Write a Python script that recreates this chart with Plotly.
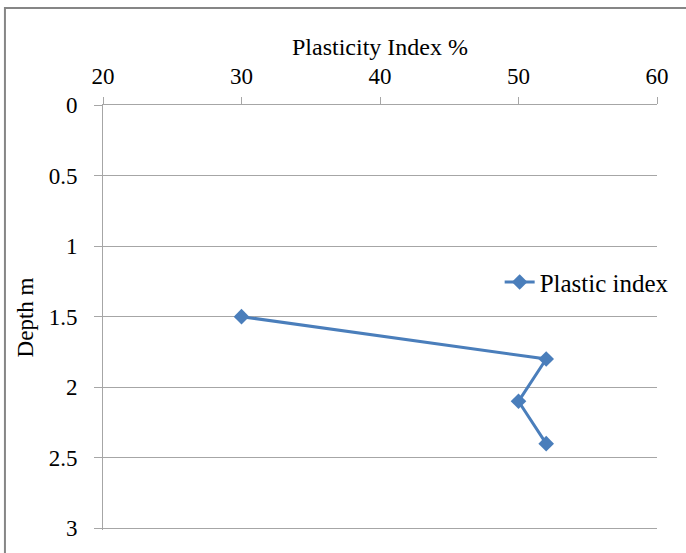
import plotly.graph_objects as go

# Plasticity index profile against depth
plasticity_index = [30, 52, 50, 52]
depth_m = [1.5, 1.8, 2.1, 2.4]

x_ticks = [20, 30, 40, 50, 60]
y_ticks = [0, 0.5, 1, 1.5, 2, 2.5, 3]
y_tick_text = ["0", "0.5", "1", "1.5", "2", "2.5", "3"]

line_color = "#4A7EBB"
axis_color = "#A6A6A6"
font_family = "Liberation Serif"

fig = go.Figure()
fig.add_trace(go.Scatter(
    x=plasticity_index,
    y=depth_m,
    mode="lines+markers",
    name="Plastic index",
    line=dict(color=line_color, width=3),
    marker=dict(symbol="diamond", size=12, color=line_color),
))

fig.update_layout(
    width=686,
    height=553,
    margin=dict(l=103, r=28, t=105, b=19),
    paper_bgcolor="white",
    plot_bgcolor="white",
    font=dict(family=font_family, size=23, color="black"),
    showlegend=True,
    legend=dict(
        x=0.716, y=0.583, xanchor="left", yanchor="middle",
        bgcolor="rgba(0,0,0,0)",
        font=dict(size=25, family=font_family),
        itemwidth=30,
    ),
    xaxis=dict(
        side="top",
        range=[20, 60],
        tickvals=x_ticks,
        showgrid=False,
        zeroline=False,
        showline=True,
        linecolor=axis_color,
        linewidth=1,
        ticks="outside",
        ticklen=7,
        tickcolor=axis_color,
        tickfont=dict(size=23, family=font_family),
        ticklabelstandoff=4,
        title=dict(text="Plasticity Index %", font=dict(size=24, family=font_family), standoff=1),
    ),
    yaxis=dict(
        range=[3.012, 0],
        tickvals=y_ticks,
        ticktext=y_tick_text,
        showgrid=True,
        gridcolor=axis_color,
        gridwidth=1,
        zeroline=False,
        showline=True,
        linecolor=axis_color,
        linewidth=1,
        ticks="outside",
        ticklen=8,
        tickcolor=axis_color,
        tickfont=dict(size=23, family=font_family),
        ticklabelstandoff=12,
        title=dict(text="Depth m", font=dict(size=23, family=font_family), standoff=8),
    ),
)

# Chart-area frame
fig.add_shape(
    type="rect", xref="paper", yref="paper",
    x0=-0.177, x1=1.06, y0=-0.08, y1=1.228,
    line=dict(color="#868686", width=2),
    fillcolor="rgba(0,0,0,0)", layer="below",
)

fig.write_html("out.html")
